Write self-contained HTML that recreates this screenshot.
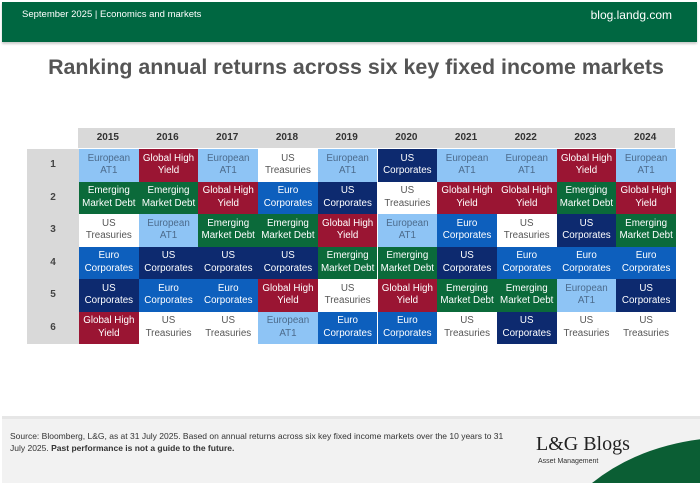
<!DOCTYPE html>
<html><head><style>
body{margin:0;width:700px;height:480px;background:#fff;font-family:"Liberation Sans",Arial,sans-serif;position:relative;overflow:hidden}
.hdr{position:absolute;left:2px;top:2px;width:695px;height:40px;background:#006741;box-shadow:0 2px 2px #ccc}
.hdr .l{position:absolute;left:20px;top:7px;color:#fff;font-size:9.5px}
.hdr .r{position:absolute;right:25px;top:6px;color:#fff;font-size:12px}
h1{position:absolute;left:0;width:712px;text-align:center;top:55px;margin:0;font-size:21.4px;color:#555;font-weight:bold}
.yh{position:absolute;top:128px;left:78px;width:597px;height:20px;background:#d9d9d9}
.yh div{position:absolute;top:4px;width:59.7px;text-align:center;font-size:10px;font-weight:bold;color:#333}
.rl{position:absolute;left:27px;top:149px;width:52px;height:195px;background:#d9d9d9}
.rl div{position:absolute;left:0;width:52px;text-align:center;font-size:10px;font-weight:bold;color:#444}
.c{position:absolute;width:59.7px;height:32.5px;display:flex;align-items:center;justify-content:center;text-align:center;font-size:9.8px;line-height:12.5px;color:#fff}
.A{background:#8ec4f5;color:#4c6b8c}.G{background:#9a1533}.E{background:#0b6a3a}.T{background:#fff;color:#555}.C{background:#0d5fbd}.U{background:#0d2a6f}
.ft{position:absolute;left:2px;top:416px;width:698px;height:64px;background:#f2f2f2;border-top:3px solid #e6e6e6}
.ft p{position:absolute;left:8px;top:11px;margin:0;font-size:8.5px;line-height:12px;color:#333;width:495px}
.lg{position:absolute;left:534px;font-family:"Liberation Serif",serif;font-size:20px;color:#222}
.am{position:absolute;left:536px;font-size:7px;color:#333}
</style></head><body>
<div class="hdr"><span class="l">September 2025 | Economics and markets</span><span class="r">blog.landg.com</span></div>
<h1>Ranking annual returns across six key fixed income markets</h1>
<div class="yh" id="yh"></div>
<div class="rl" id="rl"></div>
<div id="g"></div>
<div class="ft"><p>Source: Bloomberg, L&amp;G, as at 31 July 2025. Based on annual returns across six key fixed income markets over the 10 years to 31 July 2025. <b>Past performance is not a guide to the future.</b></p>
<div class="lg" style="top:14px">L&amp;G Blogs</div><div class="am" style="top:39px">Asset Management</div>
<svg style="position:absolute;left:590px;top:0" width="110" height="64"><path d="M0 64 Q45 28 110 20 L110 64 Z" fill="#0b5e34"/></svg>
</div>
<script>
var yrs=[2015,2016,2017,2018,2019,2020,2021,2022,2023,2024];
var d=["AETCUG","GEAUCT","AGEUCT","TCEUGA","AUGETC","UTAEGC","AGCUET","AGTCEU","GEUCAT","AGECUT"];
var L={A:"European<br>AT1",G:"Global High<br>Yield",E:"Emerging<br>Market Debt",T:"US<br>Treasuries",C:"Euro<br>Corporates",U:"US<br>Corporates"};
var h="",y="",r="";
for(var i=0;i<10;i++){y+='<div style="left:'+(i*59.7)+'px">'+yrs[i]+'</div>';
for(var j=0;j<6;j++){var k=d[i][j];h+='<div class="c '+k+'" style="left:'+(79+i*59.7)+'px;top:'+(149+j*32.5)+'px">'+L[k]+'</div>';}}
for(var j=0;j<6;j++)r+='<div style="top:'+(j*32.5+10)+'px">'+(j+1)+'</div>';
document.getElementById("g").innerHTML=h;document.getElementById("yh").innerHTML=y;document.getElementById("rl").innerHTML=r;
</script>
</body></html>
